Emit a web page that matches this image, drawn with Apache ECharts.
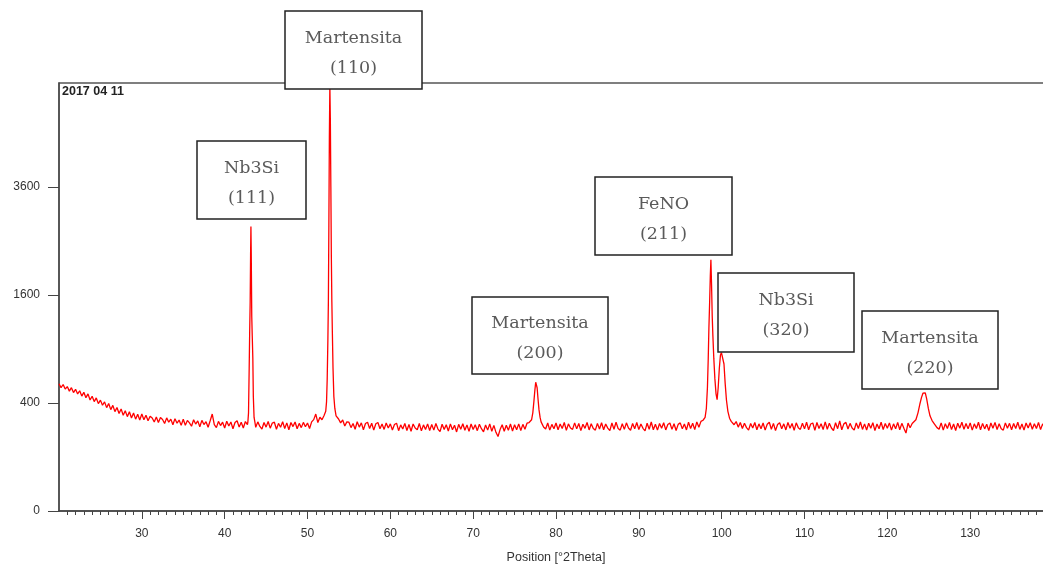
<!DOCTYPE html>
<html><head><meta charset="utf-8">
<script src="https://cdn.jsdelivr.net/npm/echarts@6/dist/echarts.min.js"></script>
<style>html,body{margin:0;padding:0;background:#fff}#c{width:1043px;height:564px}</style>
</head><body><div id="c"></div>
<script>
// Background scan: counts every 0.25 deg starting at 20 deg 2Theta
const bgStart = 20, bgStep = 0.25;
const bgCounts = [
555,521,548,509,530,492,521,480,507,469,495,452,482,440,470,422,451,410,438,395,
421,383,408,366,396,352,382,338,367,326,357,314,344,305,337,296,329,289,320,284,
322,285,314,279,308,296,271,302,268,299,287,262,297,270,289,255,292,264,283,251,
288,252,281,266,246,285,259,278,243,281,256,273,240,279,322,255,238,275,250,270,
236,276,247,271,232,268,279,241,270,236,274,255,270,270,262,240,272,245,230,268,
241,274,235,265,270,229,263,240,273,233,266,226,268,244,271,232,263,238,269,243,
265,233,272,286,322,268,301,285,312,300,300,300,300,300,322,290,266,284,247,272,
270,238,262,229,273,241,266,226,262,270,233,264,224,261,268,232,259,228,265,236,
260,225,256,264,221,254,230,263,222,256,218,259,236,226,262,220,254,228,260,222,
256,224,262,230,216,258,228,255,219,260,226,252,214,257,229,261,223,254,217,259,
227,255,221,258,232,215,253,224,260,218,251,212,190,227,255,218,252,223,259,219,
255,226,260,222,257,229,264,268,260,260,260,260,260,272,242,230,265,224,257,232,
265,226,259,233,268,223,260,236,228,266,231,262,221,258,234,269,225,261,233,224,
263,230,267,226,259,235,221,265,229,270,233,224,261,228,266,236,223,262,232,268,
227,259,234,220,264,229,271,226,258,224,262,235,267,225,256,265,228,261,222,257,
266,231,259,225,270,233,264,227,272,240,275,282,260,260,260,260,260,260,260,260,
260,260,260,260,260,286,255,274,241,268,233,264,238,224,262,236,268,226,260,232,
265,224,258,270,229,263,221,256,267,232,260,225,269,234,262,223,266,238,228,264,
231,270,226,259,265,223,268,233,261,227,272,229,264,236,222,267,232,278,226,260,
269,230,263,236,224,266,233,271,228,260,225,264,234,267,221,259,232,270,227,262,
235,266,224,260,231,269,226,263,234,208,265,237,262,260,260,260,260,260,260,260,
260,260,260,268,238,229,266,224,261,233,268,227,259,222,264,235,270,228,262,231,
266,224,260,233,270,226,263,231,258,221,265,234,269,227,261,232,224,266,235,263,
226,262,233,270,228,259,224,265,236,267,229,261,233,268,227,260,235,264,228,259
];
// Peaks (finer sampling)
const nb111Theta  = [42.80,42.88,42.96,43.02,43.08,43.13,43.17,43.21,43.27,43.33,43.40,43.46,43.55,43.65];
const nb111Counts = [270,330,700,1100,1500,2250,2770,2250,1300,1050,800,450,300,270];
const m110Theta  = [52.05,52.20,52.30,52.38,52.46,52.52,52.58,52.64,52.70,52.76,52.82,52.88,52.94,53.00,53.08,53.18,53.30,53.45];
const m110Counts = [300,340,410,600,1000,1500,2800,4800,6200,5200,3600,2200,1500,1100,700,450,360,310];
const m200Theta  = [76.90,77.05,77.20,77.33,77.45,77.55,77.63,77.72,77.83,77.95,78.08,78.20];
const m200Counts = [262,285,330,410,500,568,575,520,430,350,300,272];
const fe211Theta  = [97.80,98.00,98.15,98.28,98.38,98.46,98.55,98.63,98.70,98.78,98.86,98.94,99.05,99.18,99.32,99.45,99.58,99.72,99.85,99.97,100.07,100.17,100.28,100.42,100.58,100.75,100.95,101.15];
const fe211Counts = [275,300,360,520,800,1150,1500,1900,2160,1750,1300,1050,800,600,470,425,520,700,830,860,840,870,740,560,420,340,295,275];
const m220Theta  = [123.15,123.45,123.70,123.92,124.12,124.30,124.45,124.58,124.75,124.95,125.15,125.40,125.65];
const m220Counts = [262,285,330,390,440,475,490,478,430,360,310,280,262];

const xTicks = [30,40,50,60,70,80,90,100,110,120,130];
const yTickCounts = [0,400,1600,3600];
const yMaxCount = 6273;

const annotNames = ['Nb3Si','Martensita','Martensita','FeNO','Nb3Si','Martensita'];
const annotHkl   = ['(111)','(110)','(200)','(211)','(320)','(220)'];
const dateText = '2017 04 11';
const xName = 'Position [°2Theta]';

// build data
const peaks = [[nb111Theta,nb111Counts],[m110Theta,m110Counts],[m200Theta,m200Counts],[fe211Theta,fe211Counts],[m220Theta,m220Counts]];
const pts = [];
bgCounts.forEach((c,i)=>{
  const t = bgStart + i*bgStep;
  if (!peaks.some(([th]) => t >= th[0] && t <= th[th.length-1])) pts.push([t,c]);
});
peaks.forEach(([th,ct]) => th.forEach((t,i)=>pts.push([t,ct[i]])));
pts.sort((a,b)=>a[0]-b[0]);
// square-root intensity scale
const seriesData = pts.map(([t,c]) => [t, Math.sqrt(c)]);

// annotation box layout (pixels)
const boxLayout = [[197,141,109,78],[285,11,137,78],[472,297,136,77],[595,177,137,78],[718,273,136,79],[862,311,136,78]];
const graphics = [];
boxLayout.forEach((b,i)=>{
  const cx = b[0]+b[2]/2, cy = b[1]+b[3]/2;
  graphics.push({type:'rect', z:100, shape:{x:b[0],y:b[1],width:b[2],height:b[3]},
    style:{fill:'#fff', stroke:'#222', lineWidth:1.5}});
  graphics.push({type:'text', z:101, x:cx, y:cy-12, style:{text:annotNames[i], align:'center', verticalAlign:'middle',
    font:'17.5px "DejaVu Serif"', fill:'#5a5a5a'}});
  graphics.push({type:'text', z:101, x:cx, y:cy+18, style:{text:annotHkl[i], align:'center', verticalAlign:'middle',
    font:'17.5px "DejaVu Serif"', fill:'#5a5a5a'}});
});
graphics.push({type:'text', z:101, x:62, y:92, style:{text:dateText, align:'left', verticalAlign:'middle',
  font:'bold 12.5px "Liberation Sans"', fill:'#222'}});

const chart = echarts.init(document.getElementById('c'), null, {renderer:'canvas'});
chart.setOption({
  animation:false,
  backgroundColor:'#fff',
  grid:{left:59, right:-10, top:83, bottom:53, outerBoundsMode:'none', containLabel:false,
    show:true, borderColor:'#555', borderWidth:1.3},
  xAxis:{type:'value', min:20, max:140, interval:10,
    name:xName, nameLocation:'middle', nameGap:40,
    nameTextStyle:{fontFamily:'Liberation Sans', fontSize:12.5, color:'#333'},
    axisLine:{onZero:false, lineStyle:{color:'#444', width:1.5}},
    axisTick:{show:true, length:8, customValues:xTicks, lineStyle:{color:'#444'}},
    minorTick:{show:true, splitNumber:10, length:4, lineStyle:{color:'#444'}},
    axisLabel:{customValues:xTicks, margin:17, fontSize:12, fontFamily:'Liberation Sans', color:'#333'},
    splitLine:{show:false}},
  yAxis:{type:'value', min:0, max:Math.sqrt(yMaxCount),
    axisLine:{show:true, onZero:false, lineStyle:{color:'#444', width:1.5}},
    axisTick:{show:true, length:11, customValues:yTickCounts.map(Math.sqrt), lineStyle:{color:'#444'}},
    axisLabel:{customValues:yTickCounts.map(Math.sqrt), margin:19, fontSize:12, fontFamily:'Liberation Sans', color:'#333',
      formatter:v=>String(Math.round(v*v))},
    splitLine:{show:false}},
  series:[{type:'line', data:seriesData, showSymbol:false, symbol:'none', clip:true,
    lineStyle:{color:'#ff0000', width:1.3}}],
  graphic:graphics
});
</script></body></html>
